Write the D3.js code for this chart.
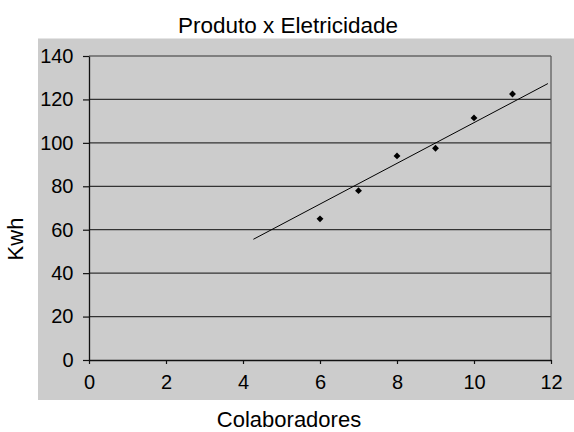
<!DOCTYPE html>
<html><head><meta charset="utf-8">
<script src="https://cdn.jsdelivr.net/npm/d3@7"></script>
<style>body{margin:0;background:#fff}svg{display:block}text{font-family:"Liberation Sans",Arial,sans-serif;fill:#000}</style>
</head><body>
<script>
const colaboradores = [6, 7, 8, 9, 10, 11];
const kwh = [65, 78, 94, 97.5, 111.5, 122.5];
const trendX = [4.27, 11.92];
const trendY = [55.6, 127.3];
const xTicks = [0, 2, 4, 6, 8, 10, 12];
const yTicks = [0, 20, 40, 60, 80, 100, 120, 140];
const title = "Produto x Eletricidade";
const xLabel = "Colaboradores";
const yLabel = "Kwh";

const W = 574, H = 432;
const svg = d3.select("body").append("svg").attr("width", W).attr("height", H);
svg.append("rect").attr("x", 38).attr("y", 38.5).attr("width", W - 38).attr("height", 361.5).attr("fill", "#cccccc");

const L = 89, R = 551, T = 56, B = 360;
const x = d3.scaleLinear().domain([0, 12]).range([L, R]);
const y = d3.scaleLinear().domain([0, 140]).range([B, T]);

// gridlines
svg.append("g").selectAll("line").data(yTicks.filter(d => d > 0)).join("line")
  .attr("x1", L).attr("x2", R).attr("y1", d => y(d)).attr("y2", d => y(d))
  .attr("stroke", "#333").attr("stroke-width", 1.2);
// right border
svg.append("line").attr("x1", R).attr("x2", R).attr("y1", T).attr("y2", B).attr("stroke", "#555").attr("stroke-width", 1.2);

const fs = 20;
const xAxis = svg.append("g").attr("transform", `translate(0,${B})`)
  .call(d3.axisBottom(x).tickValues(xTicks).tickSizeInner(4).tickSizeOuter(0).tickPadding(11));
const yAxis = svg.append("g").attr("transform", `translate(${L},0)`)
  .call(d3.axisLeft(y).tickValues(yTicks).tickSizeInner(6).tickSizeOuter(0).tickPadding(9.5));
[xAxis, yAxis].forEach(g => {
  g.select(".domain").attr("stroke", "#111").attr("stroke-width", 1.3);
  g.selectAll(".tick line").attr("stroke", "#111").attr("stroke-width", 1.2);
  g.selectAll("text").attr("font-size", fs).attr("font-family", '"Liberation Sans",Arial,sans-serif').attr("fill", "#000");
});

// trend line
svg.append("path").datum(trendX.map((d, i) => [d, trendY[i]]))
  .attr("d", d3.line().x(d => x(d[0])).y(d => y(d[1])))
  .attr("stroke", "#000").attr("stroke-width", 1).attr("fill", "none");

// points
svg.append("g").selectAll("path").data(colaboradores.map((d, i) => [d, kwh[i]])).join("path")
  .attr("d", d3.symbol().type(d3.symbolDiamond2).size(30))
  .attr("transform", d => `translate(${x(d[0])},${y(d[1])})`)
  .attr("fill", "#000");

svg.append("text").attr("x", 288).attr("y", 32.5).attr("text-anchor", "middle").attr("font-size", 22.5).text(title);
svg.append("text").attr("x", 289).attr("y", 427).attr("text-anchor", "middle").attr("font-size", 22).text(xLabel);
svg.append("text").attr("transform", "translate(23,239) rotate(-90)").attr("text-anchor", "middle").attr("font-size", 22).text(yLabel);
</script>
</body></html>
